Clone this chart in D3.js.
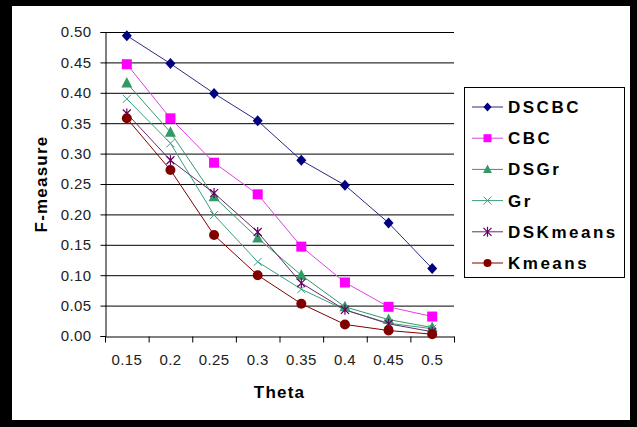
<!DOCTYPE html>
<html>
<meta charset="utf-8">
<script src="https://d3js.org/d3.v7.min.js"></script>
<style>
  body { margin: 0; background: #fff; }
  text { font-family: Arial, "Liberation Sans", sans-serif; }
</style>
<body>
<div id="chart"></div>
<script>

// chart data
var thetas = ["0.15", "0.2", "0.25", "0.3", "0.35", "0.4", "0.45", "0.5"];
var yTicks = [0, 0.05, 0.10, 0.15, 0.20, 0.25, 0.30, 0.35, 0.40, 0.45, 0.50];
var seriesNames = ["DSCBC", "CBC", "DSGr", "Gr", "DSKmeans", "Kmeans"];
var dscbc    = [0.494, 0.448, 0.399, 0.354, 0.289, 0.248, 0.186, 0.111];
var cbc      = [0.447, 0.358, 0.285, 0.233, 0.147, 0.088, 0.048, 0.032];
var dsgr     = [0.416, 0.335, 0.229, 0.161, 0.100, 0.048, 0.027, 0.014];
var gr       = [0.390, 0.317, 0.199, 0.122, 0.077, 0.043, 0.021, 0.012];
var dskmeans = [0.366, 0.289, 0.235, 0.171, 0.087, 0.043, 0.020, 0.007];
var kmeans   = [0.358, 0.273, 0.166, 0.100, 0.053, 0.019, 0.009, 0.003];

var series = [
  {name: seriesNames[0], values: dscbc,    color: "#000080", line: "#2a2a80", marker: "diamond"},
  {name: seriesNames[1], values: cbc,      color: "#ff00ff", line: "#e040e0", marker: "square"},
  {name: seriesNames[2], values: dsgr,     color: "#339966", line: "#339966", marker: "triangle"},
  {name: seriesNames[3], values: gr,       color: "#3a9f80", line: "#3a9f80", marker: "x"},
  {name: seriesNames[4], values: dskmeans, color: "#660066", line: "#6a2a6a", marker: "star"},
  {name: seriesNames[5], values: kmeans,   color: "#800000", line: "#800000", marker: "circle"}
];

var W = 637, H = 427;
var margin = {top: 32, left: 105},
    width = 454 - 105,
    height = 336 - 32;

var svg = d3.select("#chart").append("svg")
    .attr("width", W)
    .attr("height", H);

// black frame
svg.append("rect").attr("width", W).attr("height", H).attr("fill", "#000");
svg.append("rect").attr("x", 12).attr("y", 6).attr("width", 618).attr("height", 414).attr("fill", "#fff");

var g = svg.append("g")
    .attr("transform", "translate(" + margin.left + "," + margin.top + ")");

var x = d3.scaleBand().domain(thetas).range([0, width]);
var y = d3.scaleLinear().domain([0, 0.5]).range([height, 0]);

// gridlines
g.selectAll(".grid")
  .data(yTicks.slice(1))
  .enter().append("line")
    .attr("x1", 0).attr("x2", width)
    .attr("y1", function(d) { return y(d) + 0.5; })
    .attr("y2", function(d) { return y(d) + 0.5; })
    .attr("stroke", "#000")
    .attr("stroke-width", 1);

// y axis
var yAxis = g.append("g")
    .attr("transform", "translate(0.5,0)")
    .call(d3.axisLeft(y).tickValues(yTicks).tickFormat(d3.format(".2f")).tickSize(5).tickPadding(9));
yAxis.selectAll("text")
    .style("font-size", "15px")
    .style("letter-spacing", "0.4px")
    .attr("fill", "#222");

// x axis, ticks at band edges
var xAxis = g.append("g")
    .attr("transform", "translate(0," + (height + 0.5) + ")")
    .call(d3.axisBottom(x).tickSize(0).tickPadding(18));
xAxis.selectAll("text")
    .style("font-size", "15px")
    .style("letter-spacing", "0.4px")
    .attr("fill", "#222");
xAxis.selectAll(".edge")
  .data(d3.range(thetas.length + 1))
  .enter().append("line")
    .attr("x1", function(i) { return i * x.step() + 0.5; })
    .attr("x2", function(i) { return i * x.step() + 0.5; })
    .attr("y1", 0).attr("y2", 6)
    .attr("stroke", "#000");
g.selectAll(".domain").attr("stroke", "#000");

// axis titles
svg.append("text")
    .attr("x", margin.left + width / 2)
    .attr("y", 398)
    .attr("text-anchor", "middle")
    .style("font-size", "17px")
    .style("font-weight", "bold")
    .style("letter-spacing", "1.2px")
    .text("Theta");

svg.append("text")
    .attr("transform", "translate(47," + (margin.top + height / 2) + ")rotate(-90)")
    .attr("text-anchor", "middle")
    .style("font-size", "17px")
    .style("font-weight", "bold")
    .style("letter-spacing", "1.2px")
    .text("F-measure");

// marker drawing
function drawMarker(sel, s, k) {
  k = k || 1;
  if (s.marker === "diamond") {
    sel.append("path").attr("d", "M0,-5.5L5,0L0,5.5L-5,0Z")
      .attr("transform", "scale(" + k + ")")
      .attr("fill", s.color);
  } else if (s.marker === "square") {
    sel.append("rect").attr("x", -5).attr("y", -5).attr("width", 10).attr("height", 10)
      .attr("transform", "scale(" + k + ")")
      .attr("fill", s.color);
  } else if (s.marker === "triangle") {
    sel.append("path").attr("d", "M0,-6L5.5,4.5L-5.5,4.5Z")
      .attr("transform", "scale(" + k + ")")
      .attr("fill", s.color);
  } else if (s.marker === "x") {
    sel.append("path").attr("d", "M-4,-4L4,4M-4,4L4,-4")
      .attr("stroke", s.color).attr("stroke-width", 1).attr("fill", "none");
  } else if (s.marker === "star") {
    sel.append("path").attr("d", "M-4,-4L4,4M-4,4L4,-4M0,-5L0,5")
      .attr("stroke", s.color).attr("stroke-width", 1.2).attr("fill", "none");
  } else if (s.marker === "circle") {
    sel.append("circle").attr("r", 5 * k).attr("fill", s.color);
  }
}

var line = d3.line()
    .x(function(d, i) { return x(thetas[i]) + x.bandwidth() / 2; })
    .y(function(d) { return y(d); });

series.forEach(function(s) {
  g.append("path")
    .datum(s.values)
    .attr("d", line)
    .attr("fill", "none")
    .attr("stroke", s.line)
    .attr("stroke-width", 1);
});

series.forEach(function(s) {
  s.values.forEach(function(v, i) {
    var m = g.append("g")
      .attr("transform", "translate(" + (x(thetas[i]) + x.bandwidth() / 2) + "," + y(v) + ")");
    drawMarker(m, s);
  });
});

// legend
var legend = svg.append("g");
legend.append("rect")
    .attr("x", 464.5).attr("y", 87.5)
    .attr("width", 160).attr("height", 190)
    .attr("fill", "#fff")
    .attr("stroke", "#000");

series.forEach(function(s, i) {
  var ly = 107 + i * 31.2;
  legend.append("line")
    .attr("x1", 472).attr("x2", 503)
    .attr("y1", ly).attr("y2", ly)
    .attr("stroke", s.line);
  var m = legend.append("g").attr("transform", "translate(487.5," + ly + ")");
  drawMarker(m, s, 0.8);
  legend.append("text")
    .attr("x", 508)
    .attr("y", ly + 6)
    .style("font-size", "17px")
    .style("font-weight", "bold")
    .style("letter-spacing", "2.5px")
    .text(s.name);
});

</script>
</body>
</html>
